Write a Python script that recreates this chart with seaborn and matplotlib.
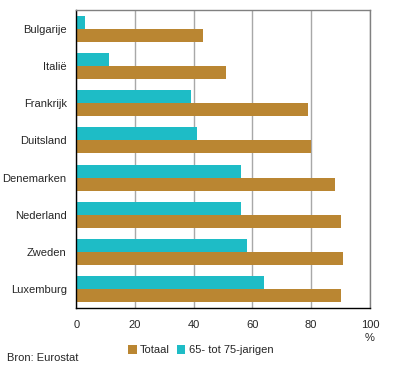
import matplotlib.pyplot as plt
import seaborn as sns
import pandas as pd

landen = ['Bulgarije', 'Italië', 'Frankrijk', 'Duitsland', 'Denemarken',
          'Nederland', 'Zweden', 'Luxemburg']
jarigen_65_75 = [3, 11, 39, 41, 56, 56, 58, 64]
totaal = [43, 51, 79, 80, 88, 90, 91, 90]

lbl_65 = '65- tot 75-jarigen'
lbl_tot = 'Totaal'

df = pd.DataFrame({
    'land': landen * 2,
    'pct': jarigen_65_75 + totaal,
    'groep': [lbl_65] * len(landen) + [lbl_tot] * len(landen),
})

sns.set_style('white')
plt.rcParams['font.family'] = ['Liberation Sans', 'DejaVu Sans']
plt.rcParams['font.size'] = 8

fig = plt.figure(figsize=(3.96, 3.75), dpi=100)
ax = fig.add_axes([0.193, 0.179, 0.741, 0.794])

pal = {lbl_65: '#1EBCC6', lbl_tot: '#BA8632'}
sns.barplot(data=df, y='land', x='pct', hue='groep', hue_order=[lbl_65, lbl_tot],
            order=landen, palette=pal, width=0.7, saturation=1, ax=ax,
            linewidth=0, legend=True)

ax.set_xlim(0, 100)
ax.set_xticks(range(0, 101, 20))
ax.set_ylabel('')
ax.set_xlabel('')
ax.xaxis.grid(True, color='#A8A8A8', linewidth=1)
ax.set_axisbelow(True)
for s in ['top', 'right']:
    ax.spines[s].set_color('#808080')
    ax.spines[s].set_linewidth(1)
for s in ['left', 'bottom']:
    ax.spines[s].set_color('black')
    ax.spines[s].set_linewidth(1)
    ax.spines[s].set_visible(True)
ax.tick_params(axis='x', direction='out', length=3, width=1, color='black',
               labelsize=8, pad=6)
ax.tick_params(axis='y', length=0, labelsize=8, pad=7)

h, l = ax.get_legend_handles_labels()
ax.legend([h[1], h[0]], [l[1], l[0]], loc='upper left', bbox_to_anchor=(0.16, -0.11),
          ncol=2, frameon=False, handlelength=0.8, handleheight=0.8,
          handletextpad=0.3, columnspacing=0.6, borderaxespad=0, fontsize=8)

fig.text(370 / 396, 1 - 338 / 375, '%', ha='center', va='center', fontsize=8)
fig.text(7 / 396, 1 - 358 / 375, 'Bron: Eurostat', ha='left', va='center', fontsize=8)

fig.savefig('out.png', dpi=100)
